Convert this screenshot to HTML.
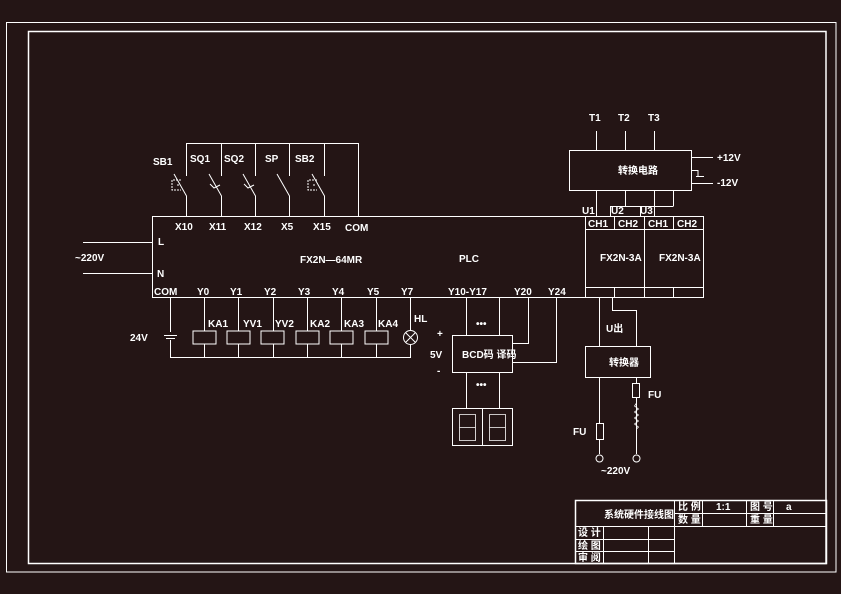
<!DOCTYPE html>
<html><head><meta charset="utf-8"><style>
html,body{margin:0;padding:0;background:#241515;}
svg{display:block;}
text{fill:#fff;font-family:"Liberation Sans Narrow","Liberation Sans","Noto Sans CJK SC",sans-serif;font-weight:bold;font-size:10px;}
</style></head><body>
<svg width="841" height="594" viewBox="0 0 841 594" xmlns="http://www.w3.org/2000/svg">
<rect width="841" height="594" fill="#241515"/>
<g stroke="#fff" fill="none" stroke-width="1">
<rect x="6.5" y="22.5" width="829.5" height="549.5"/>
<rect x="28.5" y="31.5" width="797.5" height="532" stroke-width="1.5"/>
<!-- PLC -->
<rect x="152.5" y="216.5" width="433" height="81"/>
<line x1="83" y1="242.5" x2="152" y2="242.5"/>
<line x1="83" y1="273.5" x2="152" y2="273.5"/>
<!-- inputs -->
<line x1="186" y1="143.5" x2="358.5" y2="143.5"/>
<path d="M186.5 143V176 M221.5 143V176 M255.5 143V176 M289.5 143V176 M324.5 143V176 M358.5 143V216"/>
<path d="M174 174L186.5 196V216 M209 174L221.5 196V216 M243 174L255.5 196V216 M277 174L289.5 196V216 M312 174L324.5 196V216"/>
<path d="M181 180H172V190H181 M179 185H176" stroke-dasharray="2 1"/>
<path d="M317 180H308V190H317 M315 185H312" stroke-dasharray="2 1"/>
<path d="M210 184L214 188L220 185 M244 184L248 188L254 185"/>
<!-- outputs -->
<path d="M170.5 298V357.5H410.5V298 M204.5 298V357 M238.5 298V357 M273.5 298V357 M307.5 298V357 M341.5 298V357 M376.5 298V357"/>
<g fill="#241515">
<rect x="193" y="331" width="23" height="13"/><rect x="227" y="331" width="23" height="13"/><rect x="261" y="331" width="23" height="13"/>
<rect x="296" y="331" width="23" height="13"/><rect x="330" y="331" width="23" height="13"/><rect x="365" y="331" width="23" height="13"/>
<circle cx="410.5" cy="337.5" r="7"/>
<rect x="163" y="332" width="16" height="8" stroke="none"/>
</g>
<path d="M405.5 332.5L415.5 342.5 M415.5 332.5L405.5 342.5"/>
<path d="M164 335.5H177 M166 338.5H175"/>
<!-- BCD -->
<path d="M466.5 298V335 M499.5 298V335 M528.5 298V343.5H512 M556.5 298V362.5H512"/>
<rect x="452.5" y="335.5" width="60" height="37"/>
<path d="M466.5 372V408 M499.5 372V408"/>
<rect x="452.5" y="408.5" width="60" height="37"/>
<line x1="482.5" y1="408" x2="482.5" y2="445"/>
<path d="M459.5 414.5h16v26h-16z M459.5 427.5h16 M489.5 414.5h16v26h-16z M489.5 427.5h16" stroke-width="0.8"/>
<!-- modules -->
<rect x="585.5" y="216.5" width="118" height="81"/>
<path d="M585 229.5H703 M585 287.5H703 M614.5 216V229 M614.5 287V298 M644.5 216V298 M673.5 216V229 M673.5 287V298"/>
<rect x="569.5" y="150.5" width="122" height="40"/>
<path d="M596.5 131V150 M625.5 131V150 M654.5 131V150"/>
<path d="M596.5 190V216 M625.5 190V206 M654.5 190V216 M673.5 190V206 M610.5 206.5H673.5 M610.5 206V216 M640.5 206V216"/>
<path d="M692 157.5H713 M692 183.5H713 M692 170.5H698V176 M696 176.5H704"/>
<path d="M599.5 298V346 M612.5 298V310.5H636.5V346"/>
<rect x="585.5" y="346.5" width="65" height="31"/>
<path d="M599.5 377V454 M636.5 377V383 M636.5 397V454"/>
<rect x="596.5" y="423.5" width="7" height="16" fill="#241515"/>
<rect x="632.5" y="383.5" width="7" height="14"/>
<path d="M636.5 403l-2 3 4 3-4 3 4 3-4 3 4 3-4 3 4 3-2 2" stroke-width="0.8"/>
<circle cx="599.5" cy="458.5" r="3.5"/><circle cx="636.5" cy="458.5" r="3.5"/>
<!-- title block -->
<rect x="575.5" y="500.5" width="251" height="63" stroke-width="1.5"/>
<path d="M674.5 500V563 M674.5 513.5H826 M575 526.5H826 M575 539.5H674 M575 551.5H674 M603.5 526V563 M648.5 526V563 M702.5 500V526 M746.5 500V526 M773.5 500V526"/>
</g>
<text x="153" y="165">SB1</text><text x="190" y="162">SQ1</text><text x="224" y="162">SQ2</text>
<text x="265" y="162">SP</text><text x="295" y="162">SB2</text>
<text x="175" y="230">X10</text><text x="209" y="230">X11</text><text x="244" y="230">X12</text>
<text x="281" y="230">X5</text><text x="313" y="230">X15</text><text x="345" y="231">COM</text>
<text x="158" y="245">L</text><text x="157" y="277">N</text>
<text x="75" y="261">~220V</text>
<text x="154" y="295">COM</text><text x="197" y="295">Y0</text><text x="230" y="295">Y1</text><text x="264" y="295">Y2</text>
<text x="298" y="295">Y3</text><text x="332" y="295">Y4</text><text x="367" y="295">Y5</text><text x="401" y="295">Y7</text>
<text x="300" y="263">FX2N—64MR</text><text x="459" y="262">PLC</text>
<text x="208" y="327">KA1</text><text x="243" y="327">YV1</text><text x="275" y="327">YV2</text>
<text x="310" y="327">KA2</text><text x="344" y="327">KA3</text><text x="378" y="327">KA4</text>
<text x="414" y="322">HL</text><text x="130" y="341">24V</text>
<text x="448" y="295">Y10-Y17</text><text x="514" y="295">Y20</text><text x="548" y="295">Y24</text>
<text x="476" y="327" font-size="8">•••</text><text x="476" y="388" font-size="8">•••</text>
<text x="437" y="337">+</text><text x="430" y="358">5V</text><text x="437" y="374">-</text>
<text x="462" y="358" font-size="9">BCD码 译码</text>
<text x="589" y="121" font-size="9">T1</text><text x="618" y="121" font-size="9">T2</text><text x="648" y="121" font-size="9">T3</text>
<text x="618" y="174" font-size="9">转换电路</text>
<text x="717" y="161">+12V</text><text x="717" y="186">-12V</text>
<text x="582" y="214" font-size="8">U1</text><text x="611" y="214" font-size="8">U2</text><text x="640" y="214" font-size="8">U3</text>
<text x="588" y="227" font-size="9">CH1</text><text x="618" y="227" font-size="9">CH2</text><text x="648" y="227" font-size="9">CH1</text><text x="677" y="227" font-size="9">CH2</text>
<text x="600" y="261" font-size="9">FX2N-3A</text><text x="659" y="261" font-size="9">FX2N-3A</text>
<text x="606" y="332" font-size="9">U出</text>
<text x="609" y="366" font-size="9">转换器</text>
<text x="648" y="398">FU</text><text x="573" y="435">FU</text><text x="601" y="474" font-size="9">~220V</text>
<text x="604" y="518" font-size="9">系统硬件接线图</text>
<text x="678" y="510" font-size="8">比 例</text><text x="716" y="510" font-size="8">1:1</text>
<text x="750" y="510" font-size="8">图 号</text><text x="786" y="510" font-size="8">a</text>
<text x="678" y="523" font-size="8">数 量</text><text x="750" y="523" font-size="8">重 量</text>
<text x="578" y="536" font-size="8">设 计</text><text x="578" y="549" font-size="8">绘 图</text><text x="578" y="561" font-size="8">审 阅</text>
</svg>
</body></html>
